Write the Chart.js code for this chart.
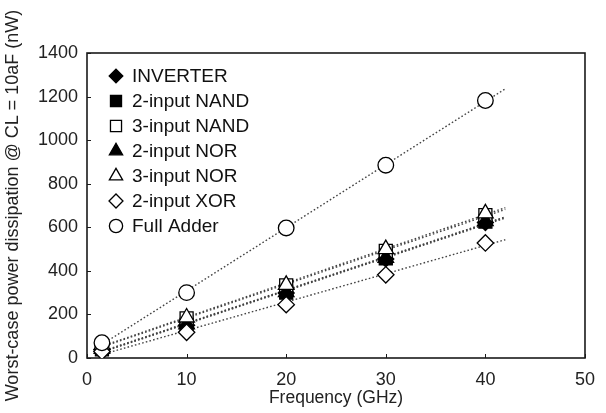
<!DOCTYPE html>
<html><head><meta charset="utf-8">
<script src="https://cdn.jsdelivr.net/npm/chart.js@4/dist/chart.umd.min.js"></script>
<style>html,body{margin:0;padding:0;background:#fff}</style>
</head><body>
<canvas id="c" width="606" height="413"></canvas>
<script>
// ---- data ----
const frequencies = [1.5, 10, 20, 30, 40];
const seriesNames = ['INVERTER', '2-input NAND', '3-input NAND', '2-input NOR', '3-input NOR', '2-input XOR', 'Full Adder'];
const inverter = [38, 150, 298, 455, 622];
const nand2 = [40, 152, 300, 458, 626];
const nand3 = [55, 182, 333, 492, 656];
const nor2 = [42, 155, 302, 460, 628];
const nor3 = [60, 186, 336, 500, 664];
const xor2 = [30, 118, 245, 382, 528];
const fullAdder = [70, 300, 597, 885, 1182];
const xTickValues = [0, 10, 20, 30, 40, 50];
const yTickValues = [0, 200, 400, 600, 800, 1000, 1200, 1400];
const trendEndX = 42;

const seriesValues = [inverter, nand2, nand3, nor2, nor3, xor2, fullAdder];
const styles = [
  {pointStyle: 'rectRot', fill: '#000', r: 8},
  {pointStyle: 'rect', fill: '#000', r: 9.2},
  {pointStyle: 'rect', fill: '#fff', r: 9.2},
  {pointStyle: 'triangle', fill: '#000', r: 9},
  {pointStyle: 'triangle', fill: '#fff', r: 9},
  {pointStyle: 'rectRot', fill: '#fff', r: 8.2},
  {pointStyle: 'circle', fill: '#fff', r: 7.8}
];

function regression(xs, ys) {
  const n = xs.length;
  const mx = xs.reduce((a, b) => a + b, 0) / n;
  const my = ys.reduce((a, b) => a + b, 0) / n;
  let sxy = 0, sxx = 0;
  for (let i = 0; i < n; i++) { sxy += (xs[i] - mx) * (ys[i] - my); sxx += (xs[i] - mx) ** 2; }
  const b = sxy / sxx;
  return {a: my - b * mx, b};
}

const datasets = [];
seriesValues.forEach((vals, i) => {
  datasets.push({
    label: seriesNames[i],
    data: frequencies.map((f, j) => ({x: f, y: vals[j]})),
    pointStyle: styles[i].pointStyle,
    pointRadius: styles[i].r,
    pointHoverRadius: styles[i].r,
    backgroundColor: styles[i].fill,
    borderColor: '#000',
    pointBorderWidth: 1.3,
    showLine: false,
    order: 6 - i
  });
});
seriesValues.forEach((vals, i) => {
  const t = regression(frequencies, vals);
  const x0 = frequencies[0];
  datasets.push({
    label: 'trend ' + seriesNames[i],
    data: [{x: x0, y: t.a + t.b * x0}, {x: trendEndX, y: t.a + t.b * trendEndX}],
    showLine: true,
    pointRadius: 0,
    borderColor: '#444',
    borderWidth: 1.4,
    borderDash: [1.6, 2.2],
    order: 100
  });
});

const FONT = "'Liberation Sans', Arial, Helvetica, sans-serif";

const framePlugin = {
  id: 'frame',
  beforeDatasetsDraw(chart) {
    const {ctx, chartArea: a, scales} = chart;
    ctx.save();
    ctx.strokeStyle = '#1a1a1a';
    ctx.lineWidth = 1.6;
    ctx.strokeRect(a.left, a.top, a.right - a.left, a.bottom - a.top);
    ctx.lineWidth = 1;
    ctx.beginPath();
    yTickValues.forEach(v => {
      const y = Math.round(scales.y.getPixelForValue(v)) + 0.5;
      ctx.moveTo(a.left, y); ctx.lineTo(a.left + 4, y);
    });
    xTickValues.forEach(v => {
      const x = Math.round(scales.x.getPixelForValue(v)) + 0.5;
      ctx.moveTo(x, a.bottom); ctx.lineTo(x, a.bottom - 4);
    });
    ctx.stroke();
    ctx.restore();
  }
};

const legendPlugin = {
  id: 'innerLegend',
  afterDraw(chart) {
    const {ctx} = chart;
    ctx.save();
    ctx.font = '19px ' + FONT;
    ctx.textBaseline = 'middle';
    const startY = 76, step = 25, mx = 116, tx = 132;
    seriesNames.forEach((name, i) => {
      const y = startY + i * step;
      const st = styles[i];
      ctx.fillStyle = st.fill;
      ctx.strokeStyle = '#000';
      ctx.lineWidth = 1.3;
      Chart.helpers.drawPoint(ctx, {pointStyle: st.pointStyle, radius: st.r * 0.85, rotation: 0, borderWidth: 1.3}, mx, y);
      ctx.fillStyle = '#111';
      ctx.fillText(name, tx, y + 1);
    });
    ctx.restore();
  }
};

new Chart(document.getElementById('c'), {
  type: 'scatter',
  data: {datasets},
  options: {
    responsive: false,
    animation: false,
    layout: {padding: {top: 53, right: 18, left: 0, bottom: 0}},
    plugins: {legend: {display: false}, tooltip: {enabled: false}},
    scales: {
      x: {
        type: 'linear', min: 0, max: 50,
        afterBuildTicks: s => { s.ticks = xTickValues.map(v => ({value: v})); },
        afterFit: s => { s.height = 55; },
        grid: {display: false, drawTicks: false},
        border: {display: false},
        ticks: {color: '#222', font: {size: 18, family: FONT}, padding: 11, maxRotation: 0, callback: v => String(v)},
        title: {display: true, text: 'Frequency (GHz)', color: '#222', font: {size: 17.5, family: FONT}, padding: {top: 0, bottom: 4}}
      },
      y: {
        type: 'linear', min: 0, max: 1400,
        afterBuildTicks: s => { s.ticks = yTickValues.map(v => ({value: v})); },
        afterFit: s => { s.width = 87; },
        grid: {display: false, drawTicks: false},
        border: {display: false},
        ticks: {color: '#222', font: {size: 18, family: FONT}, padding: 9, callback: v => String(v)},
        title: {display: true, text: 'Worst-case power dissipation @ CL = 10aF (nW)', color: '#222', font: {size: 18, family: FONT}, padding: {top: 2, bottom: 0}}
      }
    }
  },
  plugins: [framePlugin, legendPlugin]
});
</script>
</body></html>
